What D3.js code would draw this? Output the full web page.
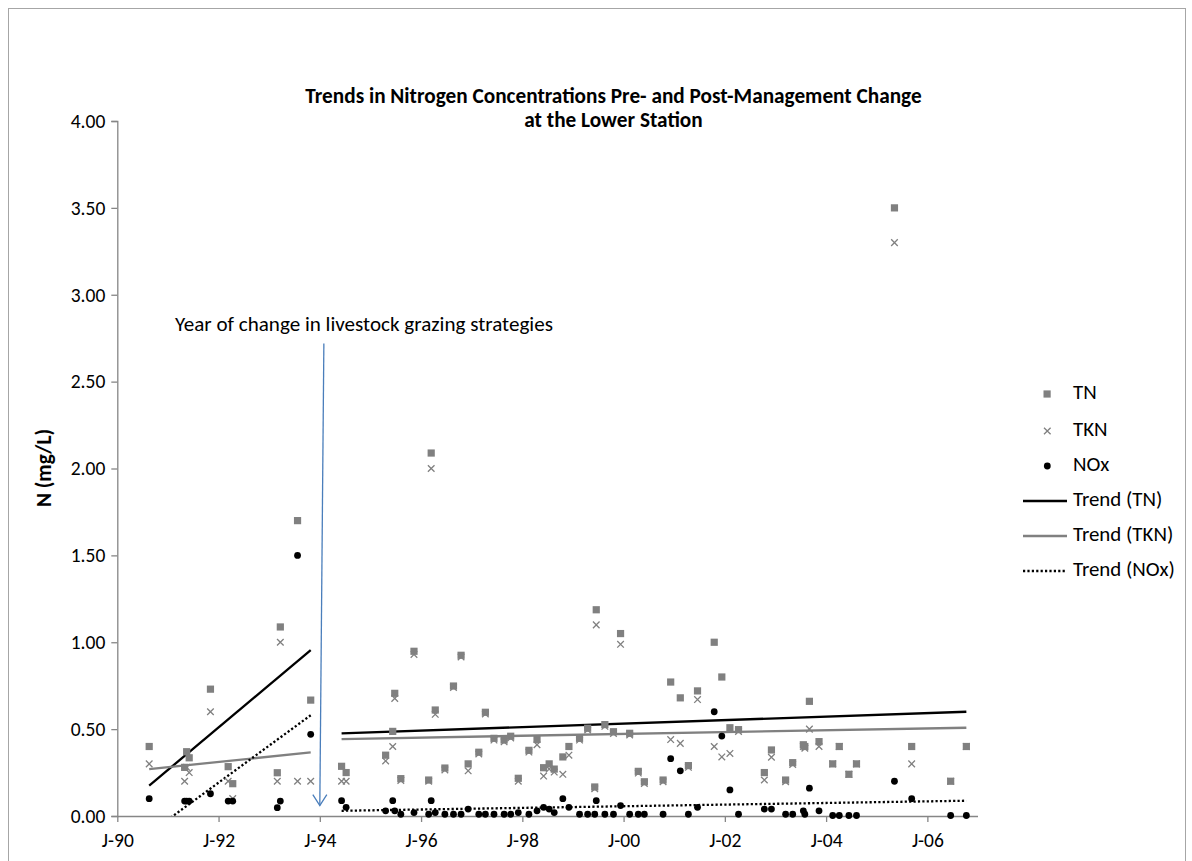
<!DOCTYPE html>
<html><head><meta charset="utf-8">
<script src="https://cdn.jsdelivr.net/npm/d3@7"></script>
<style>body{margin:0;background:#fff}</style>
</head><body>
<svg id="c" width="1192" height="861"></svg>
<script>
// ---- data (decimal years, mg/L) ----
const preDates = [1990.63,1991.33,1991.37,1991.42,1991.84,1992.19,1992.28,1993.16,1993.22,1993.56,1993.82];
const preTN    = [0.40,0.28,0.37,0.335,0.73,0.284,0.186,0.249,1.088,1.70,0.667];
const preTKN   = [0.30,0.20,0.28,0.25,0.60,0.20,0.10,0.20,1.00,0.20,0.20];
const preNOx   = [0.10,0.086,0.086,0.086,0.128,0.086,0.086,0.048,0.086,1.50,0.47];

const postDates = [1994.43,1994.52,1995.30,1995.44,1995.48,1995.60,1995.86,1996.15,1996.20,1996.28,
  1996.47,1996.64,1996.79,1996.93,1997.14,1997.27,1997.44,1997.64,1997.77,1997.92,
  1998.13,1998.29,1998.42,1998.53,1998.63,1998.80,1998.92,1999.13,1999.29,1999.43,
  1999.46,1999.63,1999.80,1999.94,2000.12,2000.29,2000.41,2000.78,2000.93,2001.12,
  2001.28,2001.46,2001.79,2001.94,2002.10,2002.27,2002.78,2002.92,2003.20,2003.34,
  2003.55,2003.58,2003.67,2003.86,2004.13,2004.26,2004.45,2004.60,2005.35,2005.69,
  2006.46,2006.77];
const postTN = [0.286,0.25,0.35,0.487,0.706,0.215,0.948,0.207,2.089,0.61,
  0.276,0.748,0.925,0.30,0.367,0.597,0.447,0.437,0.459,0.217,
  0.378,0.441,0.278,0.30,0.27,0.34,0.40,0.447,0.505,0.167,
  1.187,0.526,0.485,1.05,0.476,0.257,0.197,0.207,0.771,0.68,
  0.29,0.72,1.00,0.80,0.508,0.497,0.25,0.38,0.207,0.307,
  0.41,0.40,0.66,0.428,0.30,0.40,0.24,0.30,3.50,0.40,
  0.20,0.40];
const postTKN = [0.20,0.20,0.317,0.40,0.677,0.205,0.93,0.20,2.00,0.585,
  0.265,0.74,0.915,0.26,0.357,0.587,0.437,0.427,0.449,0.20,
  0.368,0.41,0.23,0.27,0.253,0.24,0.35,0.437,0.495,0.157,
  1.10,0.516,0.475,0.988,0.466,0.247,0.187,0.197,0.44,0.418,
  0.28,0.67,0.40,0.34,0.36,0.487,0.207,0.338,0.197,0.297,
  0.40,0.39,0.50,0.40,0.30,0.40,0.24,0.30,3.30,0.30,
  0.20,0.40];
const postNOx = [0.088,0.05,0.03,0.088,0.03,0.01,0.02,0.01,0.088,0.02,
  0.01,0.01,0.01,0.04,0.01,0.01,0.01,0.01,0.01,0.02,
  0.01,0.03,0.05,0.04,0.02,0.10,0.05,0.01,0.01,0.01,
  0.088,0.01,0.01,0.06,0.01,0.01,0.01,0.01,0.33,0.26,
  0.01,0.05,0.60,0.46,0.15,0.01,0.04,0.04,0.01,0.01,
  0.03,0.01,0.16,0.03,0.003,0.003,0.003,0.003,0.20,0.10,
  0.003,0.003];

// trend line end points
const preTrendDates  = [1990.63,1993.82];
const preTrendTN     = [0.175,0.954];
const preTrendTKN    = [0.27,0.366];
const preTrendNOx    = [-0.10,0.58];
const postTrendDates = [1994.43,2006.77];
const postTrendTN    = [0.476,0.60];
const postTrendTKN   = [0.443,0.508];
const postTrendNOx   = [0.03,0.088];

const xTickYears = [1990,1992,1994,1996,1998,2000,2002,2004,2006];
const yTickValues = [0,0.5,1,1.5,2,2.5,3,3.5,4];
const changeDate = 1994.0;
const titleLines = ["Trends in Nitrogen Concentrations Pre- and Post-Management Change","at the Lower Station"];
const annotationText = "Year of change in livestock grazing strategies";
const legendLabels = ["TN","TKN","NOx","Trend (TN)","Trend (TKN)","Trend (NOx)"];

// ---- drawing ----
const FONT = "Carlito, Calibri, Lato, 'Open Sans', sans-serif";
const svg = d3.select("#c");
const GRAY = "#808080", AXIS = "#868686";

svg.append("rect").attr("x",8.5).attr("y",8.5).attr("width",1177).attr("height",870)
  .attr("fill","#fff").attr("stroke","#a6a6a6").attr("stroke-width",1);

const x = d3.scaleLinear().domain([1990,2007]).range([117.3,978]);
const y = d3.scaleLinear().domain([0,4]).range([816,121]);

function fit(sel, target, base) {
  sel.style("font-size", base+"px");
  const w = sel.node().getComputedTextLength();
  const s = base*target/w;
  sel.style("font-size", s+"px");
  return s;
}

// axes
const yAxis = svg.append("g").attr("transform","translate(117.3,0)")
  .call(d3.axisLeft(y).tickValues(yTickValues).tickFormat(d3.format(".2f")).tickSize(6).tickPadding(6));
const xAxis = svg.append("g").attr("transform","translate(0,816)")
  .call(d3.axisBottom(x).tickValues(xTickYears).tickFormat(d=>"J-"+String(d).slice(2)).tickSize(6).tickPadding(11));
[yAxis,xAxis].forEach(g=>{
  g.select(".domain").attr("stroke",AXIS).attr("stroke-width",1.3);
  g.selectAll(".tick line").attr("stroke",AXIS).attr("stroke-width",1.3);
  g.selectAll("text").attr("fill","#000").style("font-family",FONT).style("font-size","19.5px");
});
xAxis.select(".domain").attr("d","M117.3,0.5H978");

// clip
svg.append("clipPath").attr("id","plot").append("rect")
  .attr("x",117.3).attr("y",110).attr("width",870).attr("height",706);
const plot = svg.append("g").attr("clip-path","url(#plot)");

const line = d3.line().x(d=>x(d[0])).y(d=>y(d[1]));
function trend(dates, vals, color, dash){
  plot.append("path").datum(dates.map((d,i)=>[d,vals[i]])).attr("d",line)
    .attr("fill","none").attr("stroke",color).attr("stroke-width",2.3)
    .attr("stroke-dasharray",dash||null);
}

function drawSeries(dates, tn, tkn, nox){
  const g = svg.append("g");
  g.selectAll(null).data(dates.map((d,i)=>[d,tn[i]])).join("rect")
    .attr("x",d=>x(d[0])-3.6).attr("y",d=>y(d[1])-3.6).attr("width",7.2).attr("height",7.2).attr("fill",GRAY);
  g.selectAll(null).data(dates.map((d,i)=>[d,tkn[i]])).join("path")
    .attr("d",d=>{const cx=x(d[0]),cy=y(d[1]),r=3.3;return `M${cx-r},${cy-r}L${cx+r},${cy+r}M${cx-r},${cy+r}L${cx+r},${cy-r}`;})
    .attr("stroke",GRAY).attr("stroke-width",1.3).attr("fill","none");
  g.selectAll(null).data(dates.map((d,i)=>[d,nox[i]])).join("circle")
    .attr("cx",d=>x(d[0])).attr("cy",d=>y(d[1])).attr("r",3.4).attr("fill","#000");
}
drawSeries(preDates, preTN, preTKN, preNOx);
drawSeries(postDates, postTN, postTKN, postNOx);

trend(preTrendDates, preTrendTN, "#000");
trend(preTrendDates, preTrendTKN, GRAY);
trend(preTrendDates, preTrendNOx, "#000", "2.2,2.2");
trend(postTrendDates, postTrendTN, "#000");
trend(postTrendDates, postTrendTKN, GRAY);
trend(postTrendDates, postTrendNOx, "#000", "2.2,2.2");

// arrow annotation
const BLUE = "#4a7ebb";
const ax0 = x(changeDate+0.08), ay0 = y(2.72), ax1 = x(changeDate), ay1 = y(0.06);
svg.append("line").attr("x1",ax0).attr("y1",ay0).attr("x2",ax1).attr("y2",ay1)
  .attr("stroke",BLUE).attr("stroke-width",1.3);
svg.append("path").attr("d",`M${ax1-7},${ay1-11}L${ax1},${ay1}L${ax1+7},${ay1-11}`)
  .attr("fill","none").attr("stroke",BLUE).attr("stroke-width",1.3);
const ann = svg.append("text").attr("x",175).attr("y",326).attr("dominant-baseline","middle")
  .style("font-family",FONT).text(annotationText);
fit(ann, 378, 18);

// title
const t1 = svg.append("text").attr("x",613.5).attr("y",98).attr("text-anchor","middle").attr("dominant-baseline","middle")
  .style("font-family",FONT).style("font-weight","bold").text(titleLines[0]);
const ts = fit(t1, 617, 18);
svg.append("text").attr("x",613.5).attr("y",122).attr("text-anchor","middle").attr("dominant-baseline","middle")
  .style("font-family",FONT).style("font-weight","bold").style("font-size",ts+"px").text(titleLines[1]);

// y label
svg.append("text").attr("transform","translate(46,468) rotate(-90)").attr("text-anchor","middle").attr("dominant-baseline","middle")
  .style("font-family",FONT).style("font-weight","bold").style("font-size",ts+"px").text("N (mg/L)");

// legend
const legY = [394,431,466,501,536,571];
const lg = svg.append("g");
const legTexts = [];
legendLabels.forEach((lab,i)=>{
  const yy = legY[i];
  if(i===0) lg.append("rect").attr("x",1043.5).attr("y",yy-3.6).attr("width",7.2).attr("height",7.2).attr("fill",GRAY);
  if(i===1) lg.append("path").attr("d",`M1044,${yy-3.3}L1050.6,${yy+3.3}M1044,${yy+3.3}L1050.6,${yy-3.3}`).attr("stroke",GRAY).attr("stroke-width",1.3);
  if(i===2) lg.append("circle").attr("cx",1047.3).attr("cy",yy).attr("r",3.4).attr("fill","#000");
  if(i>=3) lg.append("line").attr("x1",1023).attr("x2",1067).attr("y1",yy).attr("y2",yy)
    .attr("stroke",i===4?GRAY:"#000").attr("stroke-width",2.3).attr("stroke-dasharray",i===5?"2.2,2.2":null);
  legTexts.push(lg.append("text").attr("x",1073).attr("y",yy).attr("dominant-baseline","middle")
    .style("font-family",FONT).text(lab));
});
const ls = fit(legTexts[5], 102, 18);
legTexts.forEach(t=>t.style("font-size",ls+"px"));
</script>
</body></html>
